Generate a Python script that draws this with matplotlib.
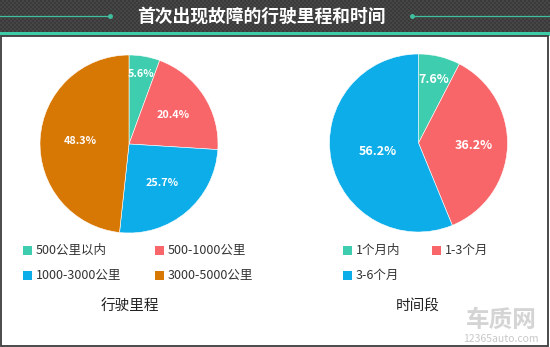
import numpy as np
import matplotlib

matplotlib.use("Agg")
import matplotlib.pyplot as plt
from matplotlib.patches import Rectangle

plt.rcParams["font.family"] = ["Noto Sans CJK SC", "DejaVu Sans"]

# chart data
title = "首次出现故障的行驶里程和时间"

mileage_labels = ["500公里以内", "500-1000公里", "1000-3000公里", "3000-5000公里"]
mileage_share = [5.6, 20.4, 25.7, 48.3]
mileage_caption = "行驶里程"

period_labels = ["1个月内", "1-3个月", "3-6个月"]
period_share = [7.6, 36.2, 56.2]
period_caption = "时间段"

TEAL = "#3ECDAE"
RED = "#F9666A"
BLUE = "#0CADE8"
ORANGE = "#D87804"

W, H = 550, 347
fig = plt.figure(figsize=(W / 100, H / 100), dpi=100)
fig.patch.set_facecolor("white")


def fx(x):
    return x / W


def fy(y):
    return 1 - y / H


# header band with a fine checker texture
header = fig.add_axes([0, fy(32), 1, 32 / H])
cells = (np.indices((16, 275)).sum(axis=0) % 2).astype(float)
header.imshow(cells, cmap=matplotlib.colors.ListedColormap(["#3a3a3a", "#464646"]),
              aspect="auto", interpolation="nearest", extent=[0, W, 32, 0])
header.set_xlim(0, W)
header.set_ylim(32, 0)
header.axis("off")
header.plot([0, 110], [16, 16], color="#3fbf9f", lw=0.9)
header.plot([412, W], [16, 16], color="#3fbf9f", lw=0.9)
header.plot([110, 412], [16, 16], ls="none", marker="o", ms=2.5, color="#3fbf9f")
header.text(261, 16.5, title, color="white", fontsize=12.8, fontweight="bold",
            ha="center", va="center")

# teal strip and panel frame
fig.patches.append(Rectangle((0, fy(36)), 1, 4 / H, transform=fig.transFigure,
                             facecolor="#3ECBA8", edgecolor="none"))
fig.patches.append(Rectangle((fx(0.8), fy(345.5)), fx(547.4), (345.5 - 36) / H,
                             transform=fig.transFigure, facecolor="none",
                             edgecolor="#3c3c3c", lw=1.3))


def draw_pie(cx, cy, r, values, colors, label_radii, label_size):
    ax = fig.add_axes([fx(cx - r), fy(cy + r), 2 * r / W, 2 * r / H])
    ax.pie(values, colors=colors, startangle=90, counterclock=False,
           wedgeprops={"edgecolor": "white", "linewidth": 0.4})
    ax.set_xlim(-1, 1)
    ax.set_ylim(-1, 1)
    total = sum(values)
    cum = 0.0
    for v, rho in zip(values, label_radii):
        mid = np.deg2rad(90 - 360 * (cum + v / 2) / total)
        ax.text(rho * np.cos(mid), rho * np.sin(mid), f"{v:.1f}%", color="white",
                fontsize=label_size, fontweight="bold", ha="center", va="center")
        cum += v


def draw_legend(entries, colors, positions):
    for text, color, (x, y) in zip(entries, colors, positions):
        fig.patches.append(Rectangle((fx(x), fy(y + 4.5)), 9 / W, 9 / H,
                                     transform=fig.transFigure, facecolor=color,
                                     edgecolor="none"))
        fig.text(fx(x + 13), fy(y), text, fontsize=9, color="#333333",
                 ha="left", va="center")


draw_pie(129, 144, 89, mileage_share, [TEAL, RED, BLUE, ORANGE],
         [0.8, 0.59, 0.57, 0.55], 7.8)
draw_pie(418.5, 143, 89, period_share, [TEAL, RED, BLUE], [0.73, 0.62, 0.47], 9)

draw_legend(mileage_labels, [TEAL, RED, BLUE, ORANGE],
            [(23, 250), (155, 250), (23, 275), (155, 275)])
draw_legend(period_labels, [TEAL, RED, BLUE], [(343, 250), (432, 250), (343, 275)])

fig.text(fx(130), fy(306), mileage_caption, fontsize=10.5, color="#222222",
         ha="center", va="center")
fig.text(fx(418), fy(306), period_caption, fontsize=10.5, color="#222222",
         ha="center", va="center")

# site mark in the lower right corner
fig.text(fx(501), fy(320), "车质网", fontsize=17, fontweight="bold",
         color="#d4d4d4", ha="center", va="center")
fig.text(fx(501), fy(339), "12365auto.com", fontsize=7.5, color="#c8c8c8",
         ha="center", va="center")

fig.savefig("out.png", dpi=100)
